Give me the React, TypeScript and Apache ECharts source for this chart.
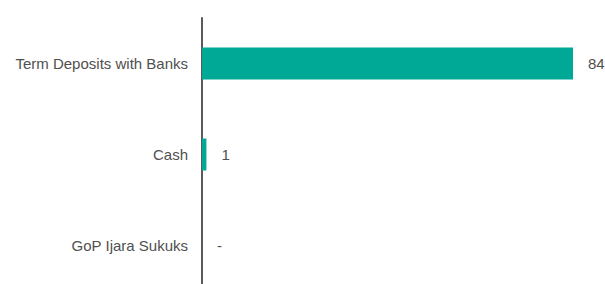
import React, { useEffect, useRef } from "react";
import * as echarts from "echarts";

const categories = ["Term Deposits with Banks", "Cash", "GoP Ijara Sukuks"];
const values = [84, 1, 0];

const FONT = "Arial";

export default function App() {
  const ref = useRef<HTMLDivElement>(null);
  useEffect(() => {
    document.body.style.margin = "0";
    document.body.style.overflow = "hidden";
    document.documentElement.style.overflow = "hidden";
    const chart = echarts.init(ref.current!, null, { renderer: "svg" });
    chart.setOption({
      animation: false,
      grid: { left: 202, top: 18, right: 32, bottom: 0, containLabel: false },
      xAxis: {
        type: "value",
        min: 0,
        max: 84,
        show: false,
      },
      yAxis: {
        type: "category",
        data: categories,
        inverse: true,
        axisLine: { show: true, lineStyle: { color: "#595959", width: 2 } },
        axisTick: { show: false },
        axisLabel: {
          color: "#505050",
          fontFamily: FONT,
          fontSize: 15,
          margin: 14,
        },
      },
      series: [
        {
          type: "bar",
          data: values,
          barWidth: 32,
          itemStyle: { color: "#00a896" },
          label: {
            show: true,
            position: "right",
            distance: 15,
            color: "#505050",
            fontFamily: FONT,
            fontSize: 15,
            formatter: (p: any) => (p.value === 0 ? "-" : String(p.value)),
          },
        },
      ],
    });
    return () => chart.dispose();
  }, []);
  return <div ref={ref} style={{ width: 605, height: 291 }} />;
}
